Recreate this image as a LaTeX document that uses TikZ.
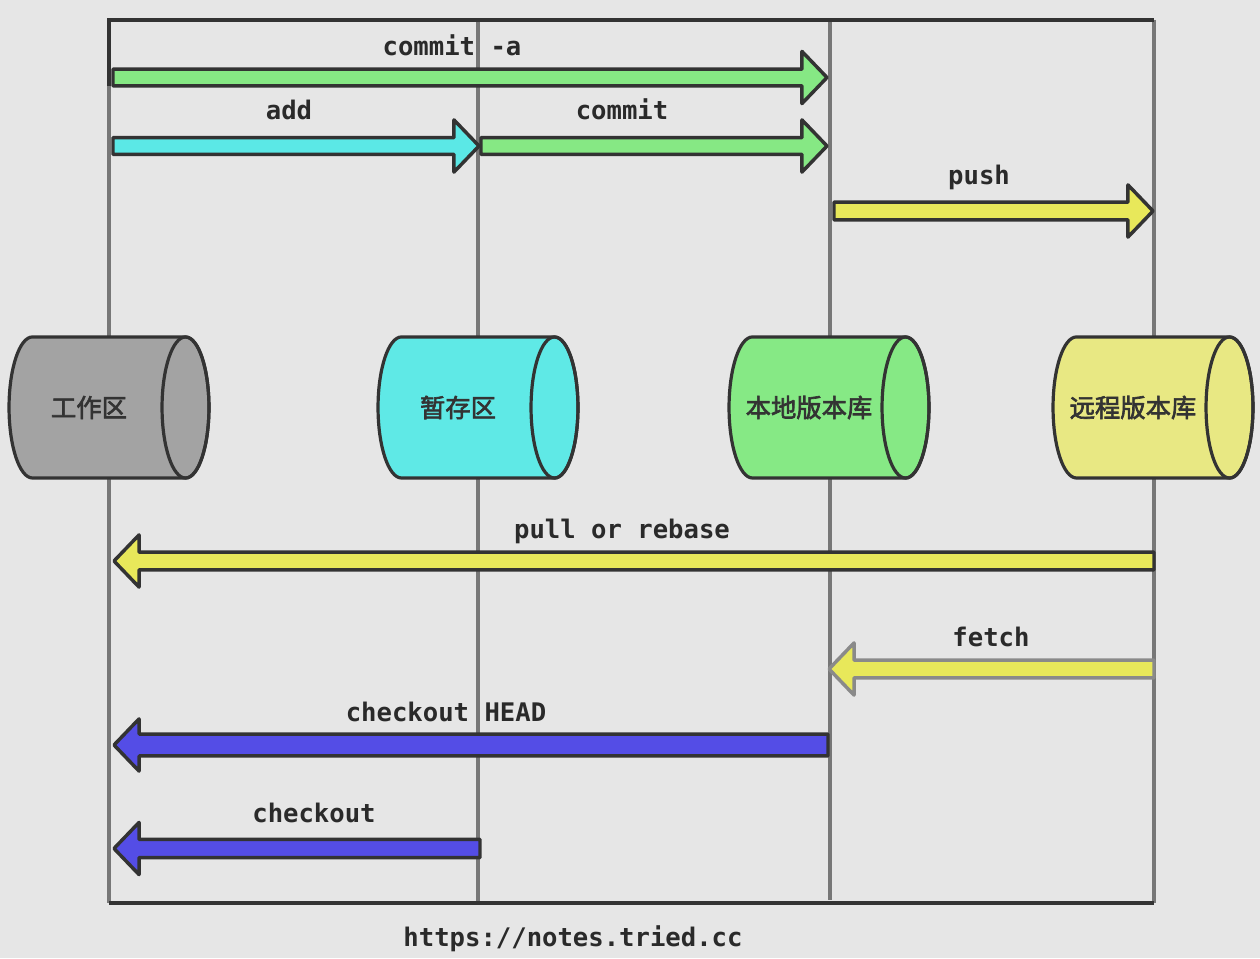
\documentclass[tikz,border=0pt]{standalone}
\usepackage{fontspec}
\setmonofont{DejaVu Sans Mono}
\newfontfamily\cjk[FakeBold=2.5]{Noto Sans CJK SC}
\usetikzlibrary{calc}
\definecolor{bgc}{HTML}{E6E6E6}
\definecolor{ink}{HTML}{333333}
\definecolor{txt}{HTML}{2A2A2A}
\definecolor{vline}{HTML}{777777}
\definecolor{gcyl}{HTML}{A3A3A3}
\definecolor{ccyl}{HTML}{5FE9E6}
\definecolor{lcyl}{HTML}{86E985}
\definecolor{ycyl}{HTML}{E8E883}
\definecolor{garr}{HTML}{86E884}
\definecolor{carr}{HTML}{5BE8E6}
\definecolor{yarr}{HTML}{E8E85A}
\definecolor{barr}{HTML}{544DE6}
\definecolor{fetchline}{HTML}{8A8A8A}
\tikzset{
  frameline/.style={draw=ink, line width=2.5pt},
  sepline/.style={draw=vline, line width=2.6pt},
  cylbody/.style={draw=ink, line width=2.4pt, line join=round},
  cyltext/.style={text=ink, font=\cjk\fontsize{19}{22}\selectfont, inner sep=0pt},
  blk/.style={line width=2.6pt, line join=round},
  lbl/.style={text=txt, font=\ttfamily\bfseries\fontsize{19.2}{22}\selectfont, inner sep=0pt, anchor=base},
}
\newcommand\cylinderat[4]{%
  \draw[cylbody, fill=#3] (#2-76.5,621) -- (#2+76.5,621)
     arc[start angle=90, end angle=-90, x radius=17.6pt, y radius=52.9pt]
     -- (#2-76.5,480)
     arc[start angle=270, end angle=90, x radius=17.6pt, y radius=52.9pt] -- cycle;
  \draw[cylbody] (#2+76.5,550.5) ellipse [x radius=17.6pt, y radius=52.9pt];
  \node[cyltext] (#1) at (#2-20,550.5) {#4};
}
\newcommand\blockarrow[5]{%
  \path ($(#2)!18.8pt!(#1)$) coordinate (ab);
  \draw[blk, fill=#3, draw=#4]
    ($(#1)!#5!90:(#2)$) -- ($(ab)!#5!90:(#2)$) -- ($(ab)!19.6pt!90:(#2)$) -- (#2)
    -- ($(ab)!19.6pt!-90:(#2)$) -- ($(ab)!#5!-90:(#2)$) -- ($(#1)!#5!-90:(#2)$) -- cycle;
}
\begin{document}
\begin{tikzpicture}[x=0.75pt,y=0.75pt]
\fill[bgc] (0,0) rectangle (1260,958);
\useasboundingbox (0,0) rectangle (1260,958);
% separators
\coordinate (t1) at (109,938); \coordinate (b1) at (109,55);
\coordinate (t2) at (478,938); \coordinate (b2) at (478,55);
\coordinate (t3) at (830,938); \coordinate (b3) at (830,58);
\coordinate (t4) at (1154,938); \coordinate (b4) at (1154,55);
\draw[sepline] (t1) -- (b1);
\draw[sepline] (t2) -- (b2);
\draw[sepline] (t3) -- (b3);
\draw[sepline] (t4) -- (b4);
\coordinate (fl) at (109,872);
\draw[frameline] (fl) -- (t1) -- (t4);
\draw[frameline] (b1) -- (b4);
% cylinders
\cylinderat{work}{109}{gcyl}{工作区}
\cylinderat{stage}{478}{ccyl}{暂存区}
\cylinderat{local}{829}{lcyl}{本地版本库}
\cylinderat{remote}{1153}{ycyl}{远程版本库}
% arrow anchors
\coordinate (ca-s) at (113,880.5); \coordinate (ca-e) at (827,880.5);
\coordinate (ad-s) at (113,812);   \coordinate (ad-e) at (479,812);
\coordinate (cm-s) at (481,812);   \coordinate (cm-e) at (827,812);
\coordinate (pu-s) at (834,747);   \coordinate (pu-e) at (1153,747);
\coordinate (pl-s) at (1154,397);  \coordinate (pl-e) at (114,397);
\coordinate (fe-s) at (1154,289);  \coordinate (fe-e) at (829,289);
\coordinate (ch-s) at (828,213);   \coordinate (ch-e) at (114,213);
\coordinate (co-s) at (480,109.5); \coordinate (co-e) at (114,109.5);
\blockarrow{ca-s}{ca-e}{garr}{ink}{6.3pt}
\blockarrow{ad-s}{ad-e}{carr}{ink}{6.3pt}
\blockarrow{cm-s}{cm-e}{garr}{ink}{6.3pt}
\blockarrow{pu-s}{pu-e}{yarr}{ink}{6.6pt}
\blockarrow{pl-s}{pl-e}{yarr}{ink}{6.6pt}
\blockarrow{fe-s}{fe-e}{yarr}{fetchline}{6.6pt}
\blockarrow{ch-s}{ch-e}{barr}{ink}{8.2pt}
\blockarrow{co-s}{co-e}{barr}{ink}{6.8pt}
% labels
\node[lbl] (l-ca) at (452,902) {commit -a};
\node[lbl] (l-ad) at (289,838) {add};
\node[lbl] (l-cm) at (622,838) {commit};
\node[lbl] (l-pu) at (979,773) {push};
\node[lbl] (l-pl) at (622,420) {pull or rebase};
\node[lbl] (l-fe) at (991,312) {fetch};
\node[lbl] (l-ch) at (446,237) {checkout HEAD};
\node[lbl] (l-co) at (314,136) {checkout};
\node[lbl] (url) at (573,12) {https://notes.tried.cc};
\end{tikzpicture}
\end{document}
